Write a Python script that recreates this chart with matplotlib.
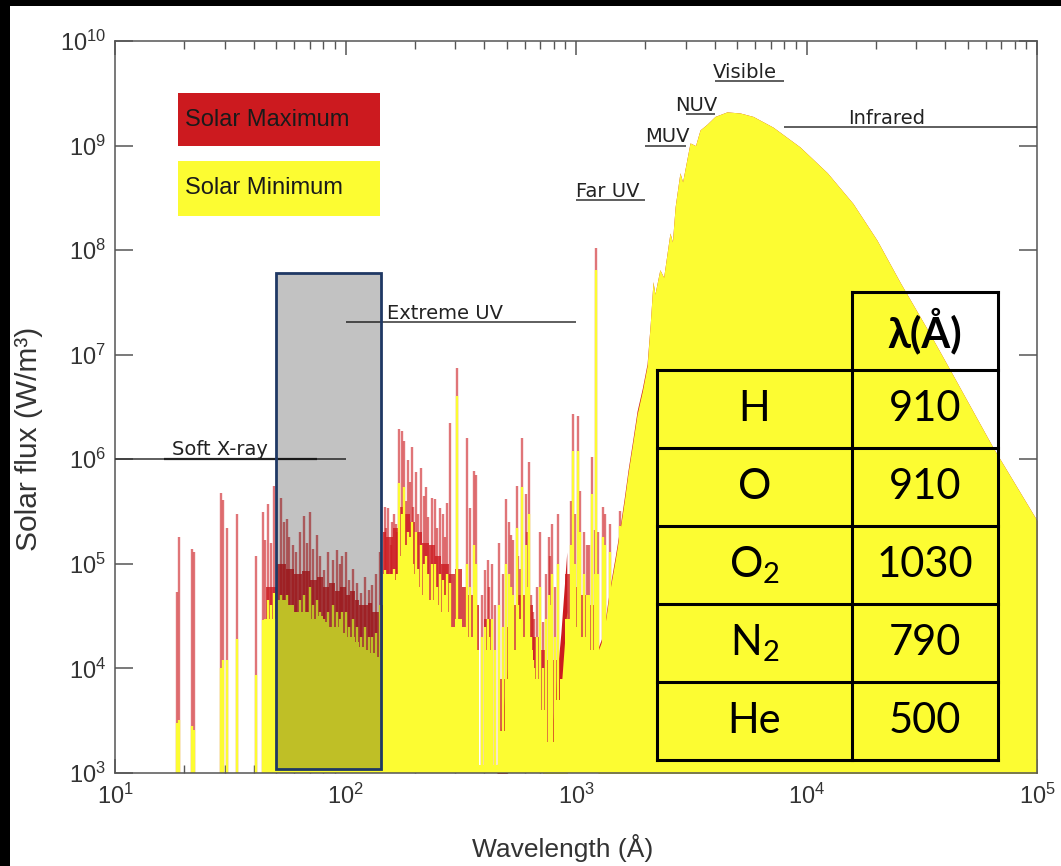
import matplotlib
matplotlib.use("Agg")
import matplotlib.pyplot as plt
from matplotlib.patches import Rectangle
from matplotlib.ticker import FixedLocator, NullLocator

plt.rcParams['font.family'] = 'Liberation Sans'

RED = '#cc1a1f'
YEL = '#fcfc32'

# emission lines: wavelength (A), flux at solar max, flux at solar min
line_wl = [18.6, 18.9, 21.6, 22.0, 28.7, 29.5, 30.5, 33.7, 40.9, 43.7, 44.7, 46.1, 47.3, 49.0,
           52.5, 54.1, 55.7, 57.0, 59.0, 61.0, 63.5, 66.0, 68.0, 70.0, 72.4, 75.0, 77.4, 81.0, 84.0,
           88.0, 91.6, 94.5, 97.0, 100, 104, 108, 112, 117, 121, 127, 130, 136, 141,
           148, 150, 153, 157, 159, 162, 165, 168, 171, 175.5,
           179, 183, 187, 190, 194, 197, 202, 206, 212, 218, 223, 228, 237, 244, 250, 256,
           264, 270, 275, 284, 304, 336, 346, 361, 368, 390, 403, 415, 420, 430, 445, 465,
           480, 495, 510, 520, 535, 552, 560, 570, 584, 605, 615, 626, 640, 650, 660, 680,
           700, 720, 740, 760, 770, 786, 810, 835, 950, 972, 990, 1025, 1037, 1080, 1115,
           1140, 1175, 1210, 1216, 1240, 1304, 1335, 1400, 1550]
line_max = [5.4e4, 1.8e5, 1.4e5, 1.3e5, 4.8e5, 4.1e5, 2.2e5, 3.0e5, 1.2e5, 3.1e5, 1.7e5, 3.75e5, 1.6e5, 5.6e5,
            4.3e5, 2.5e5, 2.7e5, 1.8e5, 1.5e5, 1.3e5, 2.0e5, 2.9e5, 1.6e5, 3.1e5, 1.4e5, 1.9e5, 1.2e5, 8.8e4, 1.3e5,
            1.1e5, 1.35e5, 1.0e5, 1.2e5, 1.3e5, 7.0e4, 9.0e4, 6.6e4, 5.3e4, 7.5e4, 5.6e4, 6.3e4, 8.0e4, 1.3e5,
            3.5e5, 2.2e5, 3.4e5, 1.5e5, 2.5e5, 3.0e5, 2.4e5, 2.0e5, 1.95e6, 1.85e6,
            1.5e6, 4.0e5, 9.9e5, 6.0e5, 1.3e6, 3.5e5, 7.6e5, 3.0e5, 8.2e5, 4.5e5, 5.4e5, 2.8e5, 4.3e5, 4.2e5, 2.2e5, 3.4e5,
            3.0e5, 1.8e5, 3.8e5, 2.2e6, 7.5e6, 1.6e6, 3.4e5, 7.7e5, 7.0e5, 5.0e4, 8.8e4, 1.1e5, 6.0e4, 1.0e5, 4.0e4, 1.6e5,
            8.0e4, 4.2e5, 2.5e5, 1.9e5, 1.7e5, 5.6e5, 1.2e5, 9.0e4, 1.6e6, 4.7e5, 2.0e5, 9.5e5, 5.0e4, 3.5e4, 3.0e4, 6.0e4,
            2.0e5, 2.8e4, 8.0e4, 1.8e5, 1.2e5, 2.4e5, 6.0e4, 3.0e5, 4.0e5, 2.7e6, 3.0e5, 2.6e6, 5.0e5, 2.0e5, 1.5e5,
            1.5e5, 1.05e6, 2.1e5, 1.05e8, 2.0e5, 3.5e5, 3.0e5, 2.4e5, 3.2e5]
line_min = [3.0e3, 3.2e3, 2.8e3, 2.6e3, 1.0e4, 1.2e4, 1.2e4, 1.9e4, 8.7e3, 2.9e4, 3.0e4, 4.5e4, 4.0e4, 5.3e4,
            5.0e4, 4.0e4, 5.0e4, 3.5e4, 3.0e4, 3.0e4, 4.5e4, 5.0e4, 3.5e4, 6.0e4, 4.0e4, 4.5e4, 3.5e4, 3.0e4, 3.5e4,
            4.0e4, 3.5e4, 3.0e4, 3.5e4, 3.5e4, 2.5e4, 3.0e4, 2.5e4, 2.0e4, 2.5e4, 2.0e4, 2.0e4, 2.2e4, 4.0e4,
            8.8e4, 6.0e4, 8.0e4, 5.0e4, 7.0e4, 9.0e4, 7.0e4, 8.0e4, 5.9e5, 3.0e5,
            5.4e5, 1.5e5, 2.0e5, 1.8e5, 2.5e5, 1.0e5, 2.0e5, 9.0e4, 1.5e5, 1.0e5, 1.2e5, 8.0e4, 1.0e5, 1.0e5, 6.0e4, 8.0e4,
            7.0e4, 5.0e4, 8.0e4, 6.6e4, 4.0e6, 1.0e5, 6.0e4, 1.5e5, 1.0e5, 2.0e4, 2.5e4, 3.0e4, 2.0e4, 3.0e4, 1.5e4, 4.0e4,
            2.5e4, 1.0e5, 8.0e4, 6.0e4, 5.0e4, 2.2e5, 4.0e4, 3.0e4, 5.4e5, 1.5e5, 6.0e4, 3.0e5, 2.0e4, 1.2e4, 1.0e4, 2.0e4,
            6.0e4, 1.0e4, 3.0e4, 5.0e4, 4.0e4, 8.0e4, 2.0e4, 1.0e5, 1.5e5, 1.2e6, 1.0e5, 1.2e6, 2.0e5, 8.0e4, 5.0e4,
            5.0e4, 4.7e5, 8.0e4, 6.5e7, 8.0e4, 1.8e5, 1.5e5, 1.3e5, 2.3e5]

# dense blend of weak lines (stairs): bin edges (A) and flux levels
band_edges = [45, 50, 55, 60, 65, 70, 75, 80, 85, 90, 95, 100, 105, 110, 115, 120, 125, 130, 135, 140,
              145, 150, 160, 170, 180, 190, 200, 215, 230, 245, 260, 280, 300, 320, 340, 360, 380,
              400, 430, 460, 490, 520, 560, 600, 650, 700, 750, 800, 850, 900, 950, 1000, 1050,
              1100, 1150, 1200, 1250]
band_max = [6e4, 1.0e5, 9e4, 8e4, 8.5e4, 7e4, 7.5e4, 6e4, 6.5e4, 5.5e4, 6e4, 5e4, 5.5e4, 4.5e4, 4e4,
            4e4, 4.2e4, 3.5e4, 3.5e4, 4e4, 2e5, 1.8e5, 2.2e5, 3.5e5, 3e5, 2.5e5, 2e5, 1.6e5, 1.5e5,
            1.2e5, 1e5, 8e4, 9e4, 6e4, 5e4, 4e4, 1.2e3, 3e4, 1.2e3, 8e3, 2.5e4, 4e4, 5e4, 4e4, 2e4,
            1.5e4, 1.2e4, 1.2e4, 1.5e4, 8e4, 8e4, 6e4, 5e4, 4e4, 4e4, 3e4]
band_min = [3e4, 4.5e4, 4e4, 3.5e4, 3.5e4, 3e4, 3.2e4, 2.8e4, 2.5e4, 2.5e4, 2.2e4, 2e4, 2e4, 1.8e4, 1.6e4,
            1.5e4, 1.4e4, 1.4e4, 1.3e4, 1.5e4, 8e4, 8e4, 7e4, 1.2e5, 1e5, 8e4, 6e4, 5e4, 4.5e4,
            4e4, 3.5e4, 2.5e4, 3e4, 2.5e4, 2e4, 1.5e4, 1.2e3, 1.5e4, 1.2e3, 2.5e3, 8e3, 1.5e4, 2e4, 1.5e4, 8e3,
            4e3, 2e3, 5e3, 8e3, 3e4, 3e4, 2.5e4, 2e4, 1.5e4, 1.5e4, 1.2e4]

# recombination continua (He I and H Lyman)
hei_wl = [454, 480, 503]
hei_max = [1.1e3, 3.5e3, 1.0e4]
lyc_wl = [720, 795, 860, 912]
lyc_max = [1.0e3, 3.4e3, 2.2e4, 1.3e5]
lyc_min = [1.0e3, 1.5e3, 6e3, 3.5e4]

# photospheric continuum
cont_wl = [1250, 1310, 1403, 1480, 1552, 1620, 1682, 1760, 1841, 1940, 2034, 2100, 2158, 2200, 2311,
           2400, 2557, 2620, 2692, 2825, 2900, 3124, 3300, 3452, 3700, 4010, 4520, 5150, 5865, 7160,
           9370, 12300, 15900, 20200, 25500, 33700, 41900, 64400, 100000]
cont_min = [1.5e4, 1.96e4, 5.6e4, 1.1e5, 2.1e5, 4e5, 7.4e5, 1.4e6, 2.7e6, 4.5e6, 7.8e6, 2e7, 5e7, 3.8e7, 6.5e7,
            5.5e7, 1.46e8, 1.2e8, 2.6e8, 5.5e8, 4.5e8, 1.06e9, 1.0e9, 1.41e9, 1.6e9, 1.9e9, 2.1e9, 2.05e9, 1.9e9, 1.5e9,
            9.7e8, 5.5e8, 2.8e8, 1.25e8, 4.9e7, 1.7e7, 7.2e6, 1.3e6, 2.6e5]
cont_max = [1.6e4, 2.1e4, 6.0e4, 1.18e5, 2.25e5, 4.3e5, 7.9e5, 1.5e6, 2.9e6, 4.8e6, 8.2e6, 2e7, 5e7, 3.8e7, 6.5e7,
            5.5e7, 1.46e8, 1.2e8, 2.6e8, 5.5e8, 4.5e8, 1.06e9, 1.0e9, 1.41e9, 1.6e9, 1.9e9, 2.1e9, 2.05e9, 1.9e9, 1.5e9,
            9.7e8, 5.5e8, 2.8e8, 1.25e8, 4.9e7, 1.7e7, 7.2e6, 1.3e6, 2.6e5]

# spectral region labels
region_names = ['Soft X-ray', 'Extreme UV', 'Far UV', 'MUV', 'NUV', 'Visible', 'Infrared']
region_start = [10, 100, 1000, 2000, 3000, 4000, 8000]
region_end = [100, 1000, 2000, 3000, 4000, 8000, 1e5]
region_level = [1e6, 2.05e7, 3.0e8, 1.0e9, 2.0e9, 4.1e9, 1.5e9]
label_x = [17.7, 151, 1000, 2000, 2690, 3930, 1.51e4]
label_y = [1.1e6, 2.2e7, 3.2e8, 1.08e9, 2.15e9, 4.4e9, 1.62e9]

y_ticks = [1e3, 1e4, 1e5, 1e6, 1e7, 1e8, 1e9, 1e10]

# ionisation thresholds table
species = ['H', 'O', 'O$_\\mathregular{2}$', 'N$_\\mathregular{2}$', 'He']
threshold = [910, 910, 1030, 790, 500]

fig = plt.figure(figsize=(10.61, 8.66), dpi=100)
fig.patch.set_facecolor('black')
fig.add_artist(Rectangle((10 / 1061, 0), 1, 1 - 6 / 866, transform=fig.transFigure,
                         facecolor='white', edgecolor='none', zorder=-10))

ax = fig.add_axes([115 / 1061, 1 - 773 / 866, 922 / 1061, 732 / 866])
ax.set_facecolor('none')
ax.set_xscale('log')
ax.set_yscale('log')
ax.set_xlim(10, 1e5)
ax.set_ylim(1e3, 1e10)

# solar maximum (red) underneath
ax.stairs(band_max, band_edges, baseline=100, fill=True, color=RED, alpha=0.8, lw=0, zorder=1)
ax.fill_between(hei_wl, 100, hei_max, color=RED, lw=0, zorder=1)
ax.fill_between(lyc_wl, 100, lyc_max, color=RED, lw=0, zorder=1)
ax.fill_between(cont_wl, 100, cont_max, color=RED, lw=0, zorder=1)
ax.vlines(line_wl, 100, line_max, colors=RED, alpha=0.6, lw=1.7, zorder=1.5)

# solar minimum (yellow) on top
ax.stairs(band_min, band_edges, baseline=100, fill=True, color=YEL, lw=0, zorder=2)
ax.fill_between(lyc_wl, 100, lyc_min, color=YEL, lw=0, zorder=2)
ax.fill_between(cont_wl, 100, cont_min, color=YEL, lw=0, zorder=2)
ax.vlines(line_wl, 100, line_min, colors=YEL, lw=1.7, zorder=2.5)

# region labels
ax.hlines(region_level, region_start, region_end, colors='#333333', lw=1.1, zorder=3)
ax.hlines(1e6, 16.3, 75, colors='#222222', lw=1.6, zorder=3)
for name, x, y in zip(region_names, label_x, label_y):
    ax.text(x, y, name, fontsize=14, family='DejaVu Sans', color='#222222',
            ha='left', va='baseline', zorder=3)

# highlighted box
ax.add_patch(Rectangle((50, 1.1e3), 92.6, 6.05e7 - 1.1e3, facecolor=(0, 0, 0, 0.24),
                       edgecolor='#1f3864', lw=2.0, zorder=4))

# axes styling
for s in ax.spines.values():
    s.set_color('#555555')
    s.set_linewidth(1.1)
ax.yaxis.set_major_locator(FixedLocator(y_ticks))
ax.yaxis.set_minor_locator(NullLocator())
ax.tick_params(which='both', direction='in', top=True, right=True, colors='#555555',
               labelcolor='#333333', labelsize=17)
ax.tick_params(axis='x', which='major', length=10, width=1.1, pad=8)
ax.tick_params(axis='x', which='minor', length=5.5, width=1.0)
ax.tick_params(axis='y', which='major', length=13, width=1.1, pad=6.5)
ax.set_xlabel('Wavelength (Å)', fontsize=19, color='#333333')
ax.xaxis.set_label_coords(0.486, -0.083)
ax.set_ylabel('Solar flux (W/m³)', fontsize=21.5, color='#333333')
ax.yaxis.set_label_coords(-0.078, 0.457)

# legend boxes
fig.add_artist(Rectangle((178 / 1061, 1 - 146 / 866), 202 / 1061, 53 / 866,
                         transform=fig.transFigure, facecolor=RED, edgecolor='none'))
fig.add_artist(Rectangle((178 / 1061, 1 - 216 / 866), 202 / 1061, 55 / 866,
                         transform=fig.transFigure, facecolor=YEL, edgecolor='none'))
fig.text(185 / 1061, 1 - 119.5 / 866, 'Solar Maximum', fontsize=17, color='#1a1a1a',
         ha='left', va='center')
fig.text(185 / 1061, 1 - 188.5 / 866, 'Solar Minimum', fontsize=17, color='#1a1a1a',
         ha='left', va='center')

# table overlay
tab = fig.add_axes([657 / 1061, 1 - 760 / 866, 341 / 1061, 468 / 866])
tab.set_xlim(0, 341)
tab.set_ylim(468, 0)
tab.axis('off')
tab.patch.set_alpha(0)
lw_t = 2.2
tab.plot([195, 195], [0, 468], color='black', lw=lw_t, clip_on=False)
tab.plot([341, 341], [0, 468], color='black', lw=lw_t, clip_on=False)
tab.plot([0, 0], [78, 468], color='black', lw=lw_t, clip_on=False)
tab.plot([195, 341], [0, 0], color='black', lw=lw_t, clip_on=False)
for k in range(1, 7):
    tab.plot([0, 341], [78 * k, 78 * k], color='black', lw=lw_t, clip_on=False)
tab.text(268, 39, 'λ(Å)', fontsize=30, fontweight='bold', family=['Lato', 'DejaVu Sans'],
         ha='center', va='center')
for i, (sp, th) in enumerate(zip(species, threshold)):
    yc = 78 * (i + 1) + 39
    tab.text(97.5, yc, sp, fontsize=30, family='Lato', ha='center', va='center')
    tab.text(268, yc, str(th), fontsize=30, family='Lato', ha='center', va='center')

fig.savefig('out.png', dpi=100, facecolor=fig.get_facecolor())
